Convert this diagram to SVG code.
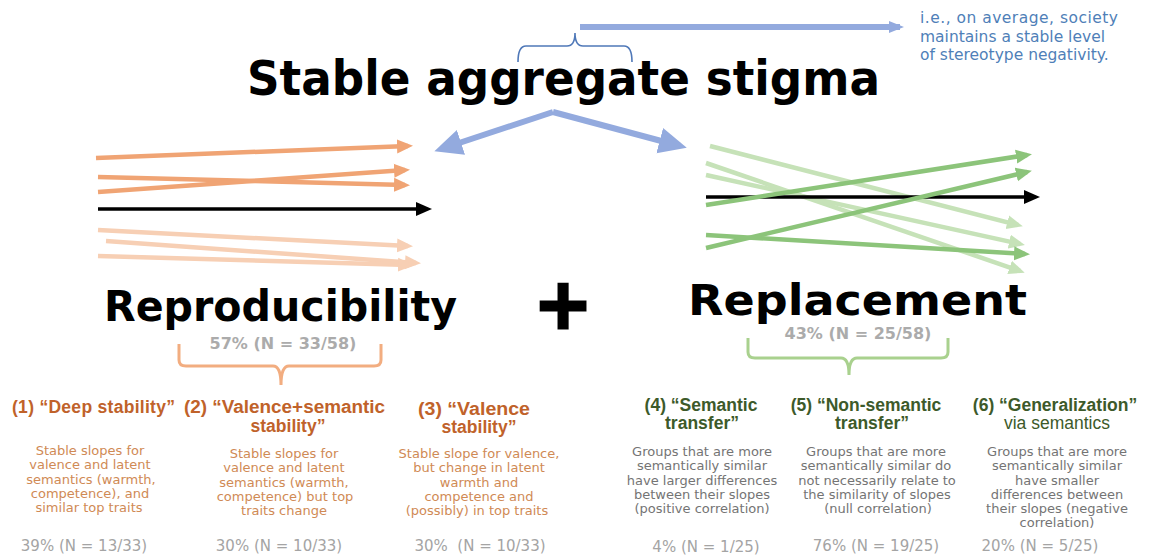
<svg xmlns="http://www.w3.org/2000/svg" width="1155" height="557" viewBox="0 0 1155 557">
  <style>
    .big { font-family: "DejaVu Sans", "Liberation Sans", sans-serif; font-weight: bold; fill: #000; }
    .note { font-family: "DejaVu Sans", "Liberation Sans", sans-serif; font-size: 15.5px; fill: #4f7fb8; }
    .share { font-family: "DejaVu Sans", "Liberation Sans", sans-serif; font-weight: bold; font-size: 16px; fill: #ababab; text-anchor: middle; }
    .head-o { font-family: "Liberation Sans", Arial, sans-serif; font-weight: bold; font-size: 17.5px; fill: #c0622a; }
    .head-g { font-family: "Liberation Sans", Arial, sans-serif; font-weight: bold; font-size: 17.5px; fill: #3d5a2a; text-anchor: middle; }
    .desc-o { font-family: "DejaVu Sans", "Liberation Sans", sans-serif; font-size: 13px; fill: #d08a55; text-anchor: middle; }
    .desc-g { font-family: "DejaVu Sans", "Liberation Sans", sans-serif; font-size: 13px; fill: #747474; text-anchor: middle; }
    .pct { font-family: "DejaVu Sans", "Liberation Sans", sans-serif; font-size: 15px; fill: #a4a4a4; text-anchor: middle; white-space: pre; }
    .orange { stroke: #f0a474; stroke-width: 4.5; fill: none; }
    .orange-l { stroke: #f7cfb4; stroke-width: 4.5; fill: none; }
    .green { stroke: #8cc47a; stroke-width: 4.5; fill: none; }
    .green-l { stroke: #c6e2b8; stroke-width: 4.5; fill: none; }
    .black { stroke: #000; stroke-width: 3.5; fill: none; }
    .blue { stroke: #93aade; stroke-width: 6; fill: none; }
  </style>
  <defs>
    <marker id="ah-orange" markerUnits="userSpaceOnUse" markerWidth="17" markerHeight="15" refX="11" refY="7.5" orient="auto">
      <path d="M0,0.5 L16,7.5 L0,14.5 z" fill="#f0a474"/>
    </marker>
    <marker id="ah-orange-l" markerUnits="userSpaceOnUse" markerWidth="17" markerHeight="15" refX="11" refY="7.5" orient="auto">
      <path d="M0,0.5 L16,7.5 L0,14.5 z" fill="#f7cfb4"/>
    </marker>
    <marker id="ah-green" markerUnits="userSpaceOnUse" markerWidth="17" markerHeight="15" refX="11" refY="7.5" orient="auto">
      <path d="M0,0.5 L16,7.5 L0,14.5 z" fill="#8cc47a"/>
    </marker>
    <marker id="ah-green-l" markerUnits="userSpaceOnUse" markerWidth="17" markerHeight="15" refX="11" refY="7.5" orient="auto">
      <path d="M0,0.5 L16,7.5 L0,14.5 z" fill="#c6e2b8"/>
    </marker>
    <marker id="ah-black" markerUnits="userSpaceOnUse" markerWidth="17" markerHeight="16" refX="11" refY="8" orient="auto">
      <path d="M0,1 L16,8 L0,15 z" fill="#000"/>
    </marker>
    <marker id="ah-blue" markerUnits="userSpaceOnUse" markerWidth="29" markerHeight="28" refX="21" refY="14" orient="auto">
      <path d="M0,1 L28,14 L0,27 z" fill="#93aade"/>
    </marker>
    <marker id="ah-blue-s" markerUnits="userSpaceOnUse" markerWidth="16" markerHeight="14" refX="11" refY="7" orient="auto">
      <path d="M0,1 L15,7 L0,13 z" fill="#93aade"/>
    </marker>
  </defs>

  <!-- headline -->
  <g id="aggregate">
    <text class="big" x="247" y="95" font-size="48" textLength="633" lengthAdjust="spacingAndGlyphs">Stable aggregate stigma</text>
  </g>

  <!-- brace over "aggregate" with explanation -->
  <g id="aggregate-note">
    <path d="M518,62 Q518,46 526,46 L567,46 Q575,46 575,33 Q575,46 583,46 L624,46 Q632,46 632,62" fill="none" stroke="#4f78b8" stroke-width="1.6"/>
    <text class="note" x="920" y="23" textLength="198">i.e., on average, society</text>
    <text class="note" x="920" y="41.5">maintains a stable level</text>
    <text class="note" x="920" y="60">of stereotype negativity.</text>
  </g>

  <!-- left panel: reproducibility -->
  <g id="reproducibility">
    <text class="big" x="104" y="321" font-size="43" textLength="353" lengthAdjust="spacingAndGlyphs">Reproducibility</text>
    <path d="M179,344 L179,360 Q179,366 186,366 L273,366 Q281,366 281,385 Q281,366 289,366 L374,366 Q381,366 381,360 L381,344" fill="none" stroke="#f2ad80" stroke-width="3"/>
    <text class="share" x="283" y="349">57% (N = 33/58)</text>
  </g>

  <g id="plus">
    <text class="big" x="563" y="328" font-size="70" text-anchor="middle" stroke="#000" stroke-width="3">+</text>
  </g>

  <!-- right panel: replacement -->
  <g id="replacement">
    <text class="big" x="688" y="315" font-size="43" textLength="339" lengthAdjust="spacingAndGlyphs">Replacement</text>
    <path d="M748,338 L748,352 Q748,358 755,358 L841,358 Q849,358 849,375 Q849,358 857,358 L941,358 Q948,358 948,352 L948,338" fill="none" stroke="#a9d18e" stroke-width="3"/>
    <text class="share" x="858" y="339">43% (N = 25/58)</text>
  </g>

  <!-- slope diagrams and linking arrows -->
  <g id="connectors">
    <line class="blue" x1="580" y1="27" x2="900" y2="27" stroke-width="3" marker-end="url(#ah-blue-s)"/>
    <path class="blue" d="M553,112 L441,149" marker-end="url(#ah-blue)"/>
    <path class="blue" d="M553,112 L680,146" marker-end="url(#ah-blue)"/>

    <line class="orange" x1="96" y1="158" x2="408" y2="146" marker-end="url(#ah-orange)"/>
    <line class="orange" x1="98" y1="177" x2="405" y2="185" marker-end="url(#ah-orange)"/>
    <line class="orange" x1="98" y1="192" x2="405" y2="170" marker-end="url(#ah-orange)"/>
    <line class="black" x1="98" y1="209" x2="427" y2="209" marker-end="url(#ah-black)"/>
    <line class="orange-l" x1="98" y1="230" x2="408" y2="246" marker-end="url(#ah-orange-l)"/>
    <line class="orange-l" x1="106" y1="241" x2="416" y2="263" marker-end="url(#ah-orange-l)"/>
    <line class="orange-l" x1="98" y1="256" x2="409" y2="265" marker-end="url(#ah-orange-l)"/>

    <line class="green-l" x1="710" y1="146" x2="1018" y2="225" marker-end="url(#ah-green-l)"/>
    <line class="green-l" x1="706" y1="163" x2="1020" y2="271" marker-end="url(#ah-green-l)"/>
    <line class="green-l" x1="706" y1="175" x2="1020" y2="244" marker-end="url(#ah-green-l)"/>
    <line class="black" x1="706" y1="197" x2="1035" y2="197" marker-end="url(#ah-black)"/>
    <line class="green" x1="706" y1="205" x2="1027" y2="155" marker-end="url(#ah-green)"/>
    <line class="green" x1="706" y1="248" x2="1027" y2="172" marker-end="url(#ah-green)"/>
    <line class="green" x1="706" y1="235" x2="1025" y2="254" marker-end="url(#ah-green)"/>
  </g>

  <!-- reproducibility outcomes -->
  <g id="deep-stability">
    <text class="head-o" x="12" y="413" textLength="163">(1) “Deep stability”</text>
    <text class="desc-o" x="90" y="455">Stable slopes for</text>
    <text class="desc-o" x="90" y="469">valence and latent</text>
    <text class="desc-o" x="91" y="484">semantics (warmth,</text>
    <text class="desc-o" x="90" y="498">competence), and</text>
    <text class="desc-o" x="89" y="512">similar top traits</text>
    <text class="pct" x="84" y="551">39% (N = 13/33)</text>
  </g>
  <g id="valence-semantic-stability">
    <text class="head-o" x="184" y="413" textLength="201" lengthAdjust="spacingAndGlyphs">(2) “Valence+semantic</text>
    <text class="head-o" x="288" y="432" text-anchor="middle">stability”</text>
    <text class="desc-o" x="284" y="458">Stable slopes for</text>
    <text class="desc-o" x="284" y="472">valence and latent</text>
    <text class="desc-o" x="284" y="487">semantics (warmth,</text>
    <text class="desc-o" x="285" y="501">competence) but top</text>
    <text class="desc-o" x="284" y="515">traits change</text>
    <text class="pct" x="279" y="551">30% (N = 10/33)</text>
  </g>
  <g id="valence-stability">
    <text class="head-o" x="418" y="415" textLength="112" lengthAdjust="spacingAndGlyphs">(3) “Valence</text>
    <text class="head-o" x="479" y="433" text-anchor="middle">stability”</text>
    <text class="desc-o" x="479" y="458">Stable slope for valence,</text>
    <text class="desc-o" x="479" y="472">but change in latent</text>
    <text class="desc-o" x="479" y="487">warmth and</text>
    <text class="desc-o" x="479" y="501">competence and</text>
    <text class="desc-o" x="477" y="515">(possibly) in top traits</text>
    <text class="pct" x="480" y="551">30%  (N = 10/33)</text>
  </g>

  <!-- replacement outcomes -->
  <g id="semantic-transfer">
    <text class="head-g" x="701" y="411">(4) “Semantic</text>
    <text class="head-g" x="702" y="429">transfer”</text>
    <text class="desc-g" x="702" y="456">Groups that are more</text>
    <text class="desc-g" x="702" y="470">semantically similar</text>
    <text class="desc-g" x="702" y="485">have larger differences</text>
    <text class="desc-g" x="702" y="499">between their slopes</text>
    <text class="desc-g" x="702" y="513">(positive correlation)</text>
    <text class="pct" x="706" y="552">4% (N = 1/25)</text>
  </g>
  <g id="non-semantic-transfer">
    <text class="head-g" x="866" y="411">(5) “Non-semantic</text>
    <text class="head-g" x="872" y="429">transfer”</text>
    <text class="desc-g" x="876" y="456">Groups that are more</text>
    <text class="desc-g" x="876" y="470">semantically similar do</text>
    <text class="desc-g" x="877" y="485">not necessarily relate to</text>
    <text class="desc-g" x="877" y="499">the similarity of slopes</text>
    <text class="desc-g" x="878" y="513">(null correlation)</text>
    <text class="pct" x="876" y="551">76% (N = 19/25)</text>
  </g>
  <g id="generalization">
    <text class="head-g" x="1055" y="411">(6) “Generalization”</text>
    <text class="head-g" x="1057" y="429" style="font-weight: normal">via semantics</text>
    <text class="desc-g" x="1057" y="456">Groups that are more</text>
    <text class="desc-g" x="1057" y="470">semantically similar</text>
    <text class="desc-g" x="1057" y="485">have smaller</text>
    <text class="desc-g" x="1057" y="499">differences between</text>
    <text class="desc-g" x="1057" y="513">their slopes (negative</text>
    <text class="desc-g" x="1057" y="527">correlation)</text>
    <text class="pct" x="1040" y="551">20% (N = 5/25)</text>
  </g>
</svg>
